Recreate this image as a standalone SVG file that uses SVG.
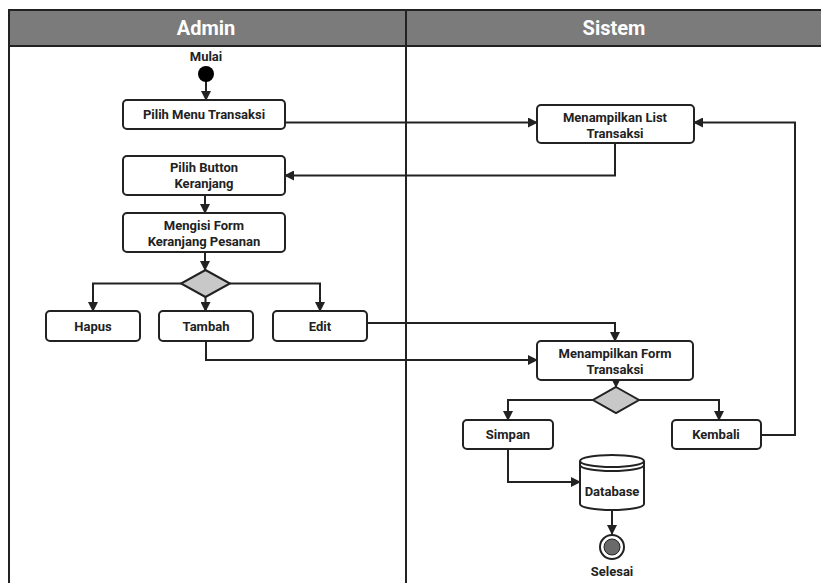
<svg xmlns="http://www.w3.org/2000/svg" width="821" height="583" viewBox="0 0 821 583">
  <style>
    .lane-title { font-family: Roboto, "Liberation Sans", sans-serif; font-size: 20px; font-weight: bold; fill: #ffffff; text-anchor: middle; }
    .node rect { fill: #ffffff; stroke: #222222; stroke-width: 2; }
    .label { font-family: Roboto, "Liberation Sans", sans-serif; font-size: 13px; font-weight: bold; fill: #222222; text-anchor: middle; }
    .edge { fill: none; stroke: #222222; stroke-width: 2; marker-end: url(#arrow); }
    .decision { fill: #c8c8c8; stroke: #222222; stroke-width: 2; }
  </style>
  <defs>
    <marker id="arrow" viewBox="0 0 10 10" refX="9" refY="5" markerWidth="5" markerHeight="5" orient="auto" markerUnits="strokeWidth">
      <path d="M0,0 L10,5 L0,10 z" fill="#222222"/>
    </marker>
  </defs>

  <rect width="821" height="583" fill="#ffffff"/>

  <!-- swimlanes -->
  <g id="lanes">
    <rect x="9" y="10" width="830" height="36" fill="#7b7b7b" stroke="#222222" stroke-width="2"/>
    <line x1="9" y1="10" x2="9" y2="585" stroke="#222222" stroke-width="2"/>
    <line x1="406" y1="10" x2="406" y2="585" stroke="#222222" stroke-width="2"/>
    <text class="lane-title" x="206" y="35">Admin</text>
    <text class="lane-title" x="614" y="35">Sistem</text>
  </g>

  <!-- connectors -->
  <g id="connectors">
    <path class="edge" d="M206,81 V100"/>
    <path class="edge" d="M285,122.5 H537"/>
    <path class="edge" d="M615,143 V175.5 H285"/>
    <path class="edge" d="M205,195 V213"/>
    <path class="edge" d="M205,252 V270"/>
    <path class="edge" d="M181,283.5 H93 V311"/>
    <path class="edge" d="M205.5,297 V311"/>
    <path class="edge" d="M230,283.5 H320 V311"/>
    <path class="edge" d="M367,323 H615 V341"/>
    <path class="edge" d="M206,341 V360 H537"/>
    <path class="edge" d="M616,380 V387"/>
    <path class="edge" d="M593,400 H508 V420"/>
    <path class="edge" d="M639,400 H719 V420"/>
    <path class="edge" d="M761,435 H795 V122.5 H694"/>
    <path class="edge" d="M508,449 V482 H580"/>
    <path class="edge" d="M612,510 V534"/>
  </g>

  <!-- start -->
  <g id="start">
    <text class="label" x="206" y="61">Mulai</text>
    <circle cx="206" cy="74" r="8" fill="#000000"/>
  </g>

  <g id="pilih-menu" class="node">
    <rect x="123" y="100" width="162" height="29" rx="4"/>
    <text class="label" x="204" y="119">Pilih Menu Transaksi</text>
  </g>

  <g id="pilih-button" class="node">
    <rect x="123" y="156" width="162" height="39" rx="4"/>
    <text class="label" x="204" y="172">Pilih Button</text>
    <text class="label" x="204" y="188">Keranjang</text>
  </g>

  <g id="mengisi-form" class="node">
    <rect x="123" y="213" width="162" height="39" rx="4"/>
    <text class="label" x="204" y="230">Mengisi Form</text>
    <text class="label" x="204" y="246">Keranjang Pesanan</text>
  </g>

  <g id="decision-aksi">
    <polygon class="decision" points="205.5,270 230,283.5 205.5,297 181,283.5"/>
  </g>

  <g id="hapus" class="node">
    <rect x="46" y="311" width="94" height="30" rx="4"/>
    <text class="label" x="93" y="331">Hapus</text>
  </g>

  <g id="tambah" class="node">
    <rect x="159" y="311" width="94" height="30" rx="4"/>
    <text class="label" x="206" y="331">Tambah</text>
  </g>

  <g id="edit" class="node">
    <rect x="273" y="311" width="94" height="30" rx="4"/>
    <text class="label" x="320" y="331">Edit</text>
  </g>

  <g id="list-transaksi" class="node">
    <rect x="537" y="105" width="157" height="38" rx="4"/>
    <text class="label" x="615" y="122">Menampilkan List</text>
    <text class="label" x="615" y="138">Transaksi</text>
  </g>

  <g id="form-transaksi" class="node">
    <rect x="537" y="341" width="156" height="39" rx="4"/>
    <text class="label" x="615" y="358">Menampilkan Form</text>
    <text class="label" x="615" y="374">Transaksi</text>
  </g>

  <g id="decision-simpan">
    <polygon class="decision" points="616,387 639,400 616,413 593,400"/>
  </g>

  <g id="simpan" class="node">
    <rect x="463" y="420" width="90" height="29" rx="4"/>
    <text class="label" x="508" y="439">Simpan</text>
  </g>

  <g id="kembali" class="node">
    <rect x="672" y="420" width="89" height="29" rx="4"/>
    <text class="label" x="716" y="439">Kembali</text>
  </g>

  <g id="database">
    <path d="M580,461 V504 A32,6 0 0 0 644,504 V461" fill="#ffffff" stroke="#222222" stroke-width="2"/>
    <ellipse cx="612" cy="461" rx="32" ry="6" fill="#ffffff" stroke="#222222" stroke-width="2"/>
    <path d="M580,465 A32,6 0 0 0 644,465" fill="none" stroke="#222222" stroke-width="2"/>
    <text class="label" x="612" y="496">Database</text>
  </g>

  <!-- end -->
  <g id="end">
    <circle cx="612" cy="547" r="12" fill="#ffffff" stroke="#222222" stroke-width="2"/>
    <circle cx="612" cy="547" r="8" fill="#6a6a6a" stroke="#222222" stroke-width="1"/>
    <text class="label" x="612" y="576">Selesai</text>
  </g>
</svg>
